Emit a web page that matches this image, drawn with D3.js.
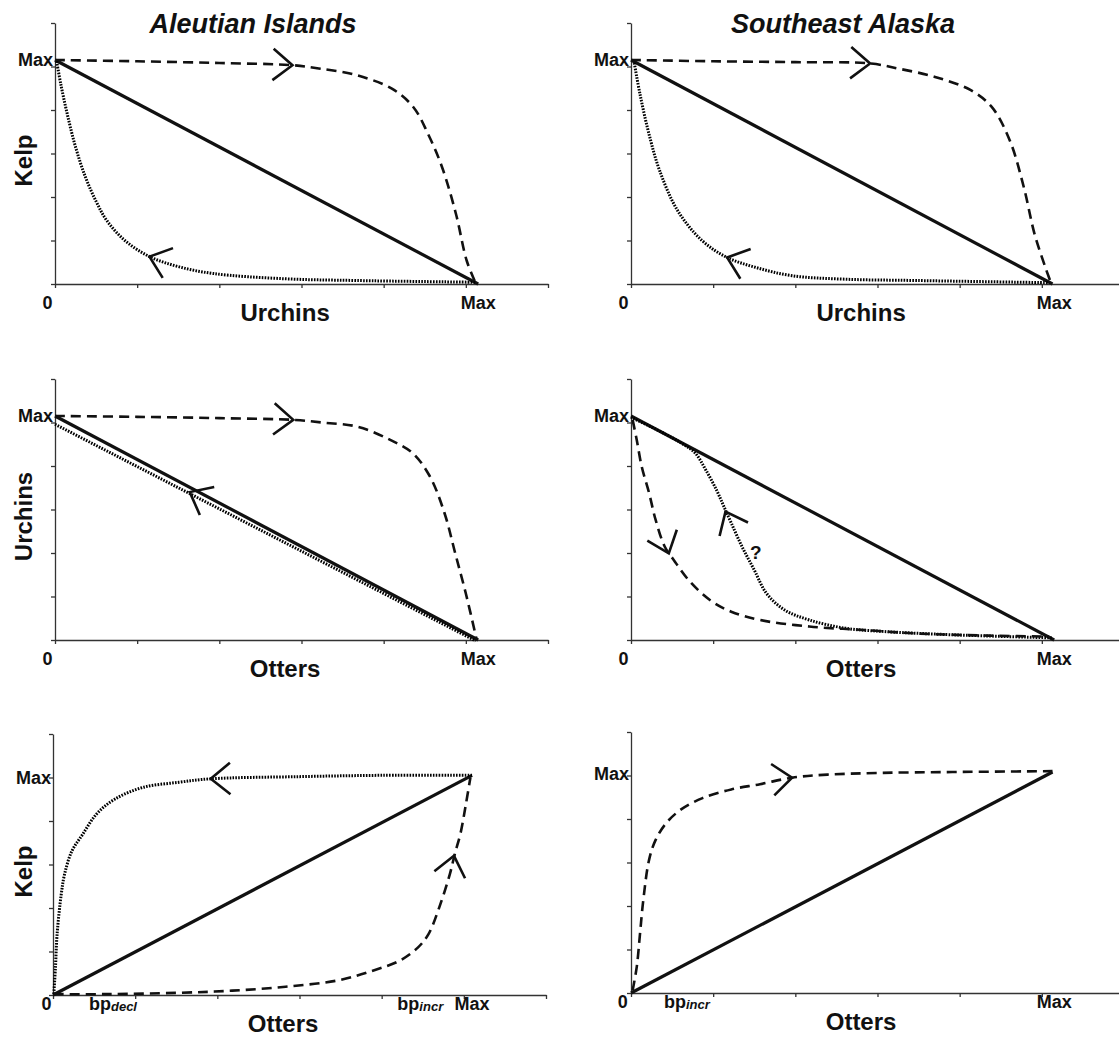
<!DOCTYPE html>
<html>
<head>
<meta charset="utf-8">
<script src="https://cdn.jsdelivr.net/npm/d3@7"></script>
<style>
  body { margin: 0; background: #fff; }
  svg text { font-family: "Liberation Sans", Arial, Helvetica, sans-serif; font-weight: bold; fill: #111; }
</style>
</head>
<body>
<svg id="chart" width="1119" height="1038"></svg>
<script>
// Hysteresis sketches: kelp / urchins / otters, Aleutian Islands vs Southeast Alaska.
// Both axes run 0..6 (tick units); "Max" sits a bit past tick 5.

const COLUMN_TITLES = ["Aleutian Islands", "Southeast Alaska"];
const TICKS = [0, 1, 2, 3, 4, 5, 6];

// --- panel 1: Aleutian, kelp vs urchins
const p1Solid = [[0, 5.15], [5.15, 0]];
const p1Dashed = [[0, 5.15], [1.0, 5.12], [2.0, 5.08], [2.89, 5.03], [3.23, 4.95], [3.67, 4.8], [4.1, 4.49],
  [4.36, 4.07], [4.54, 3.45], [4.71, 2.69], [4.88, 1.61], [5.01, 0.54], [5.12, 0.02]];
const p1Dotted = [[0.02, 5.12], [0.07, 4.6], [0.15, 3.9], [0.25, 3.15], [0.37, 2.46], [0.5, 1.9],
  [0.63, 1.46], [0.85, 1.0], [1.15, 0.63], [1.5, 0.4], [1.93, 0.24], [2.8, 0.12], [3.67, 0.08], [5.12, 0.04]];
const p1Arrows = [
  { from: [2.5, 5.06], to: [2.89, 5.03] },
  { from: [1.5, 0.4], to: [1.15, 0.63] },
];

// --- panel 2: SE Alaska, kelp vs urchins
const p2Solid = [[0, 5.15], [5.13, 0]];
const p2Dashed = [[0, 5.15], [1.0, 5.12], [2.0, 5.1], [2.91, 5.07], [3.26, 4.95], [3.7, 4.76], [4.13, 4.46],
  [4.39, 4.07], [4.61, 3.3], [4.78, 2.23], [4.91, 1.16], [5.04, 0.4], [5.11, 0.03]];
const p2Dotted = [[0.04, 5.08], [0.11, 4.36], [0.22, 3.44], [0.35, 2.6], [0.57, 1.68], [0.87, 0.99],
  [1.17, 0.61], [1.52, 0.38], [1.96, 0.19], [2.61, 0.11], [3.48, 0.08], [5.09, 0.03]];
const p2Arrows = [
  { from: [2.5, 5.1], to: [2.91, 5.07] },
  { from: [1.52, 0.38], to: [1.17, 0.61] },
];

// --- panel 3: Aleutian, urchins vs otters
const p3Solid = [[0, 5.15], [5.15, 0]];
const p3Dashed = [[0, 5.15], [1.0, 5.13], [2.0, 5.1], [2.9, 5.06], [3.25, 5.0], [3.69, 4.9], [4.08, 4.6],
  [4.35, 4.3], [4.56, 3.77], [4.74, 2.92], [4.87, 2.0], [5.0, 1.07], [5.13, 0.02]];
const p3Dotted = [[0, 4.96], [5.12, -0.02]];
const p3Arrows = [
  { from: [2.0, 3.05], to: [1.64, 3.4] },
  { from: [2.5, 5.1], to: [2.9, 5.06] },
];

// --- panel 4: SE Alaska, urchins vs otters
const p4Solid = [[0, 5.15], [5.15, 0]];
const p4Dashed = [[0.02, 5.06], [0.07, 4.6], [0.13, 3.99], [0.22, 3.38], [0.3, 2.76], [0.41, 2.15],
  [0.52, 1.84], [0.7, 1.38], [0.96, 0.92], [1.22, 0.65], [1.57, 0.46], [2.17, 0.31], [2.83, 0.23],
  [3.48, 0.15], [4.35, 0.1], [5.09, 0.08]];
const p4Dotted = [[5.12, 0.05], [3.91, 0.12], [3.04, 0.2], [2.61, 0.27], [2.17, 0.46], [1.87, 0.69],
  [1.65, 1.07], [1.5, 1.61], [1.35, 2.15], [1.22, 2.69], [1.13, 3.07], [1.04, 3.45], [0.91, 3.91],
  [0.78, 4.3], [0.61, 4.53], [0.35, 4.8], [0, 5.12]];
const p4Arrows = [
  { from: [0.38, 2.4], to: [0.46, 1.99] },
  { from: [1.25, 2.55], to: [1.15, 2.95] },
];
const p4Notes = [{ x: 1.52, y: 2.02, text: "?" }];

// --- panel 5: Aleutian, kelp vs otters
const p5Solid = [[0, 0], [5.1, 5.05]];
const p5Dotted = [[5.1, 5.05], [4.0, 5.05], [3.0, 5.02], [1.92, 4.97], [1.53, 4.89], [1.09, 4.77],
  [0.75, 4.5], [0.53, 4.16], [0.36, 3.69], [0.23, 3.31], [0.14, 2.77], [0.1, 2.31], [0.05, 1.4],
  [0.03, 0.64], [0.01, 0.02]];
const p5Dashed = [[0.01, 0.02], [0.66, 0.02], [1.53, 0.05], [2.18, 0.1], [2.83, 0.19], [3.48, 0.34],
  [3.91, 0.57], [4.22, 0.79], [4.44, 1.09], [4.57, 1.4], [4.7, 2.01], [4.83, 2.78], [4.89, 3.24],
  [4.96, 3.72], [5.02, 4.33], [5.08, 5.0]];
const p5Arrows = [
  { from: [2.5, 4.99], to: [1.92, 4.97] },
  { from: [4.83, 2.78], to: [4.88, 3.2] },
];
const p5XLabels = [
  { x: -0.08, main: "0" },
  { x: 0.73, main: "bp", sub: "decl" },
  { x: 4.47, main: "bp", sub: "incr" },
  { x: 5.1, main: "Max" },
];

// --- panel 6: SE Alaska, kelp vs otters
const p6Solid = [[0, 0], [5.13, 5.08]];
const p6Dashed = [[0.02, 0.06], [0.07, 0.6], [0.11, 1.37], [0.15, 2.14], [0.22, 3.06], [0.3, 3.52],
  [0.43, 3.91], [0.61, 4.22], [0.87, 4.48], [1.22, 4.68], [1.57, 4.8], [1.96, 4.95], [2.39, 5.02],
  [3.04, 5.06], [3.91, 5.08], [5.13, 5.1]];
const p6Arrows = [{ from: [1.6, 4.88], to: [1.96, 4.95] }];
const p6XLabels = [
  { x: -0.1, main: "0" },
  { x: 0.68, main: "bp", sub: "incr" },
  { x: 5.15, main: "Max" },
];

const topXLabels = [{ x: -0.09, main: "0" }, { x: 5.15, main: "Max" }];

// layout (pixels) kept apart from the data above
const panels = [
  { ox: 55, oy: 284, yTitle: "Kelp", xTitle: "Urchins", yMax: 5.15, solid: p1Solid, dashed: p1Dashed, dotted: p1Dotted, arrows: p1Arrows, xLabels: topXLabels, labelDy: 25 },
  { ox: 631, oy: 284, yTitle: null, xTitle: "Urchins", yMax: 5.15, solid: p2Solid, dashed: p2Dashed, dotted: p2Dotted, arrows: p2Arrows, xLabels: topXLabels, labelDy: 25 },
  { ox: 55, oy: 640, yTitle: "Urchins", xTitle: "Otters", yMax: 5.15, solid: p3Solid, dashed: p3Dashed, dotted: p3Dotted, arrows: p3Arrows, xLabels: topXLabels, labelDy: 25 },
  { ox: 631, oy: 640, yTitle: null, xTitle: "Otters", yMax: 5.15, solid: p4Solid, dashed: p4Dashed, dotted: p4Dotted, arrows: p4Arrows, notes: p4Notes, xLabels: topXLabels, labelDy: 25 },
  { ox: 53, oy: 995, yTitle: "Kelp", xTitle: "Otters", yMax: 5.0, solid: p5Solid, dashed: p5Dashed, dotted: p5Dotted, arrows: p5Arrows, xLabels: p5XLabels, labelDy: 15, titleDy: 37 },
  { ox: 631, oy: 993, yTitle: null, xTitle: "Otters", yMax: 5.05, solid: p6Solid, dashed: p6Dashed, dotted: null, arrows: p6Arrows, xLabels: p6XLabels, labelDy: 15, titleDy: 37 },
];

const svg = d3.select("#chart");
const INK = "#111";

// titles over each column
[253, 843].forEach((cx, i) => {
  svg.append("text").attr("x", cx).attr("y", 33).attr("text-anchor", "middle")
    .attr("font-size", "27px").attr("font-style", "italic").text(COLUMN_TITLES[i]);
});

function drawPanel(p) {
  const x = d3.scaleLinear().domain([0, 6]).range([p.ox, p.ox + 493]);
  const y = d3.scaleLinear().domain([0, 6]).range([p.oy, p.oy - 261]);
  const g = svg.append("g");

  // axes
  const ax = g.append("g").attr("transform", `translate(0,${p.oy})`)
    .call(d3.axisBottom(x).tickValues(TICKS).tickSize(4).tickSizeOuter(0).tickFormat(""));
  const ay = g.append("g").attr("transform", `translate(${p.ox},0)`)
    .call(d3.axisLeft(y).tickValues(TICKS).tickSize(4).tickSizeOuter(0).tickFormat(""));
  [ax, ay].forEach(a => {
    a.select(".domain").attr("stroke", "#333").attr("stroke-width", 1.3);
    a.selectAll(".tick line").attr("stroke", "#333").attr("stroke-width", 1.3);
  });

  const line = d3.line().x(d => x(d[0])).y(d => y(d[1])).curve(d3.curveCatmullRom.alpha(0.5));

  g.append("path").attr("d", line(p.solid)).attr("fill", "none")
    .attr("stroke", INK).attr("stroke-width", 3.2);
  if (p.dotted) {
    g.append("path").attr("d", line(p.dotted)).attr("fill", "none")
      .attr("stroke", "#000").attr("stroke-width", 3).attr("stroke-dasharray", "1.6,1.3");
  }
  if (p.dashed) {
    g.append("path").attr("d", line(p.dashed)).attr("fill", "none")
      .attr("stroke", INK).attr("stroke-width", 2.6).attr("stroke-dasharray", "10,6");
  }

  // open chevron arrowheads
  (p.arrows || []).forEach(a => {
    const tx = x(a.to[0]), ty = y(a.to[1]);
    const ang = Math.atan2(ty - y(a.from[1]), tx - x(a.from[0])) + Math.PI;
    const len = 25, spread = 0.68;
    const p1 = [tx + len * Math.cos(ang + spread), ty + len * Math.sin(ang + spread)];
    const p2 = [tx + len * Math.cos(ang - spread), ty + len * Math.sin(ang - spread)];
    g.append("path").attr("d", `M${p1}L${tx},${ty}L${p2}`).attr("fill", "none")
      .attr("stroke", INK).attr("stroke-width", 2.6).attr("stroke-linejoin", "miter");
  });

  (p.notes || []).forEach(n => {
    g.append("text").attr("x", x(n.x)).attr("y", y(n.y) + 7).attr("text-anchor", "middle")
      .attr("font-size", "19px").text(n.text);
  });

  // y "Max" label
  g.append("text").attr("x", p.ox - 2).attr("y", y(p.yMax) + 6.5).attr("text-anchor", "end")
    .attr("font-size", "18px").text("Max");

  // x tick labels
  p.xLabels.forEach(l => {
    const t = g.append("text").attr("x", x(l.x)).attr("y", p.oy + p.labelDy)
      .attr("text-anchor", "middle").attr("font-size", "18px");
    t.append("tspan").text(l.main);
    if (l.sub) t.append("tspan").attr("font-size", "13px").attr("font-style", "italic").attr("dy", 1).text(l.sub);
  });

  // axis titles
  g.append("text").attr("x", x(2.8)).attr("y", p.oy + (p.titleDy || 37)).attr("text-anchor", "middle")
    .attr("font-size", "24px").text(p.xTitle);
  if (p.yTitle) {
    g.append("text").attr("transform", `translate(32,${y(3) + 7}) rotate(-90)`)
      .attr("text-anchor", "middle").attr("font-size", "24px").text(p.yTitle);
  }
}

panels.forEach(drawPanel);
</script>
</body>
</html>
